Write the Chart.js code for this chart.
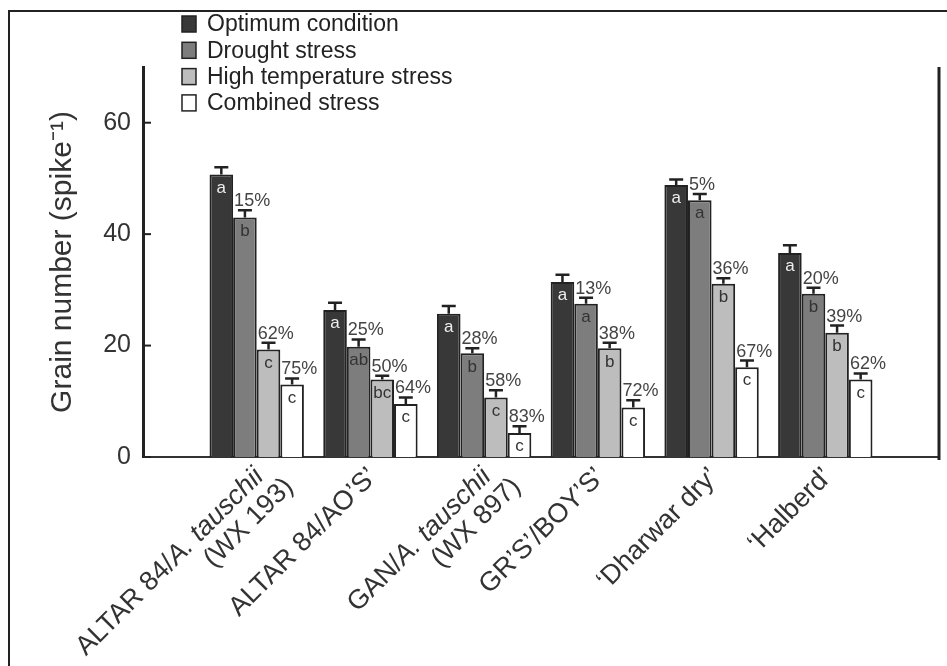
<!DOCTYPE html>
<html lang="en">
<head>
    <meta charset="UTF-8">
    <title>Grain number under stress</title>
    <script src="https://cdn.jsdelivr.net/npm/chart.js"></script>
    <style>
        html, body { margin: 0; padding: 0; background: #fff; overflow: hidden; }
        .chart-container { position: relative; width: 947px; height: 666px; }
    </style>
</head>
<body>
    <div class="chart-container"><canvas id="grainChart"></canvas></div>

    <script>
        // genotypes, one array of lines per label
        const categories = [
            ['ALTAR 84/A. tauschii', '(WX 193)'],
            ['ALTAR 84/AO’S’'],
            ['GAN/A. tauschii', '(WX 897)'],
            ['GR’S’/BOY’S’'],
            ['‘Dharwar dry’'],
            ['‘Halberd’']
        ];
        const seriesNames = ['Optimum condition', 'Drought stress', 'High temperature stress', 'Combined stress'];
        const seriesColors = ['#383838', '#7d7d7d', '#bdbdbd', '#ffffff'];

        // grain number per spike
        const optimum  = [50.7, 26.4, 25.7, 31.4, 48.8, 36.6];
        const drought  = [43.0, 19.8, 18.6, 27.5, 46.1, 29.3];
        const highTemp = [19.3, 13.9, 10.7, 19.5, 31.1, 22.3];
        const combined = [13.0, 9.5, 4.3, 8.9, 16.1, 13.9];

        // standard errors
        const optimumErr  = [1.3, 1.3, 1.4, 1.3, 1.0, 1.4];
        const droughtErr  = [1.3, 1.3, 0.9, 1.1, 1.1, 1.1];
        const highTempErr = [1.2, 0.7, 1.3, 1.0, 1.0, 1.3];
        const combinedErr = [1.1, 1.2, 1.2, 1.3, 1.2, 1.1];

        // significance letters
        const optimumLetters  = ['a', 'a', 'a', 'a', 'a', 'a'];
        const droughtLetters  = ['b', 'ab', 'b', 'a', 'a', 'b'];
        const highTempLetters = ['c', 'bc', 'c', 'b', 'b', 'b'];
        const combinedLetters = ['c', 'c', 'c', 'c', 'c', 'c'];

        // % reduction vs optimum
        const droughtCut  = [15, 25, 28, 13, 5, 20];
        const highTempCut = [62, 50, 58, 38, 36, 39];
        const combinedCut = [75, 64, 83, 72, 67, 62];

        const yTicks = [0, 20, 40, 60];

        const FONT = "'Liberation Sans', Arial, Helvetica, sans-serif";
        const values = [optimum, drought, highTemp, combined];
        const errorSets = [optimumErr, droughtErr, highTempErr, combinedErr];
        const letterSets = [optimumLetters, droughtLetters, highTempLetters, combinedLetters];
        const cutSets = [null, droughtCut, highTempCut, combinedCut];

        // empty slot on each side of the groups
        const pad = arr => [null, ...arr, null];

        function drawLabelLine(ctx, text, xEnd, y) {
            const key = 'A. tauschii';
            const idx = text.indexOf(key);
            const parts = idx < 0 ? [[text, false]]
                : [[text.slice(0, idx), false], [key, true], [text.slice(idx + key.length), false]];
            let total = 0;
            parts.forEach(p => {
                ctx.font = (p[1] ? 'italic ' : '') + '27px ' + FONT;
                p.push(ctx.measureText(p[0]).width);
                total += p[2];
            });
            let x = xEnd - total;
            parts.forEach(p => {
                ctx.font = (p[1] ? 'italic ' : '') + '27px ' + FONT;
                ctx.fillText(p[0], x, y);
                x += p[2];
            });
        }

        const decorPlugin = {
            id: 'decor',
            beforeDraw(chart) {
                const ctx = chart.ctx;
                ctx.save();
                ctx.strokeStyle = '#222';
                ctx.lineWidth = 2;
                ctx.beginPath();
                ctx.moveTo(9, 666);
                ctx.lineTo(9, 11);
                ctx.lineTo(947, 11);
                ctx.stroke();
                ctx.restore();
            },
            afterDatasetsDraw(chart) {
                const ctx = chart.ctx;
                const yScale = chart.scales.y;
                ctx.save();
                chart.data.datasets.forEach((ds, d) => {
                    const meta = chart.getDatasetMeta(d);
                    meta.data.forEach((bar, i) => {
                        const v = ds.data[i];
                        if (v === null || v === undefined) return;
                        const k = i - 1;
                        const errTop = yScale.getPixelForValue(v + errorSets[d][k]);
                        const left = bar.x - bar.width / 2;

                        ctx.strokeStyle = '#222';
                        ctx.lineWidth = 2.5;
                        ctx.beginPath();
                        ctx.moveTo(bar.x, bar.y);
                        ctx.lineTo(bar.x, errTop);
                        ctx.moveTo(bar.x - 7, errTop);
                        ctx.lineTo(bar.x + 7, errTop);
                        ctx.stroke();

                        ctx.font = '17px ' + FONT;
                        ctx.textBaseline = 'top';
                        ctx.textAlign = 'center';
                        ctx.fillStyle = d === 0 ? '#eeeeee' : '#333';
                        ctx.fillText(letterSets[d][k], bar.x, bar.y + 5);

                        if (cutSets[d]) {
                            ctx.font = '18px ' + FONT;
                            ctx.textAlign = 'left';
                            ctx.textBaseline = 'alphabetic';
                            ctx.fillStyle = '#444';
                            ctx.fillText(cutSets[d][k] + '%', left + 1, errTop - 4);
                        }
                    });
                });
                ctx.restore();
            },
            afterDraw(chart) {
                const ctx = chart.ctx;
                const area = chart.chartArea;
                const yScale = chart.scales.y;
                const xScale = chart.scales.x;
                ctx.save();

                // right frame of the plot
                ctx.strokeStyle = '#222';
                ctx.lineWidth = 3;
                ctx.beginPath();
                ctx.moveTo(area.right, area.top);
                ctx.lineTo(area.right, area.bottom + 3);
                ctx.stroke();

                // inward y ticks
                ctx.lineWidth = 2;
                yTicks.forEach(v => {
                    const py = yScale.getPixelForValue(v);
                    ctx.beginPath();
                    ctx.moveTo(area.left, py);
                    ctx.lineTo(area.left + 8, py);
                    ctx.stroke();
                });

                // rotated category labels
                ctx.fillStyle = '#333';
                ctx.textBaseline = 'alphabetic';
                ctx.textAlign = 'left';
                categories.forEach((lines, i) => {
                    const px = xScale.getPixelForValue(i + 1);
                    ctx.save();
                    ctx.translate(px + 8, area.bottom + 21);
                    ctx.rotate(-Math.PI / 4);
                    lines.forEach((line, j) => drawLabelLine(ctx, line, j * 14, j * 28));
                    ctx.restore();
                });

                // legend
                ctx.font = '23px ' + FONT;
                ctx.textBaseline = 'middle';
                chart.data.datasets.forEach((ds, d) => {
                    const cy = 24 + d * 26.3;
                    ctx.fillStyle = ds.backgroundColor;
                    ctx.fillRect(182, cy - 8, 14, 16);
                    ctx.strokeStyle = '#222';
                    ctx.lineWidth = 1.5;
                    ctx.strokeRect(182, cy - 8, 14, 16);
                    ctx.fillStyle = '#222';
                    ctx.fillText(ds.label, 207, cy + 1);
                });
                ctx.restore();
            }
        };

        const ctx = document.getElementById('grainChart').getContext('2d');
        const grainChart = new Chart(ctx, {
            type: 'bar',
            data: {
                labels: ['', ...categories.map(c => c.join(' ')), ''],
                datasets: seriesNames.map((name, d) => ({
                    label: name,
                    data: pad(values[d]),
                    backgroundColor: seriesColors[d],
                    borderColor: '#222',
                    borderWidth: 2,
                    categoryPercentage: 0.83,
                    barPercentage: 1.0
                }))
            },
            options: {
                responsive: true,
                maintainAspectRatio: false,
                animation: false,
                layout: { padding: { left: 0, top: 67, right: 8, bottom: 0 } },
                plugins: {
                    legend: { display: false },
                    tooltip: { enabled: false }
                },
                scales: {
                    x: {
                        type: 'category',
                        offset: false,
                        afterFit: s => { s.height = 209; },
                        grid: { display: false, drawTicks: false },
                        border: { display: true, color: '#333', width: 2 },
                        ticks: { display: false }
                    },
                    y: {
                        min: 0,
                        max: 70,
                        afterBuildTicks: s => { s.ticks = yTicks.map(v => ({ value: v })); },
                        afterFit: s => { s.width = 143; },
                        grid: { display: false, drawTicks: false },
                        border: { display: true, color: '#222', width: 3 },
                        ticks: { padding: 12, color: '#333', font: { family: FONT, size: 25 } },
                        title: {
                            display: true,
                            text: 'Grain number (spike⁻¹)',
                            color: '#333',
                            font: { family: FONT, size: 30 },
                            padding: { top: 45, bottom: 0 }
                        }
                    }
                }
            },
            plugins: [decorPlugin]
        });
    </script>
</body>
</html>
